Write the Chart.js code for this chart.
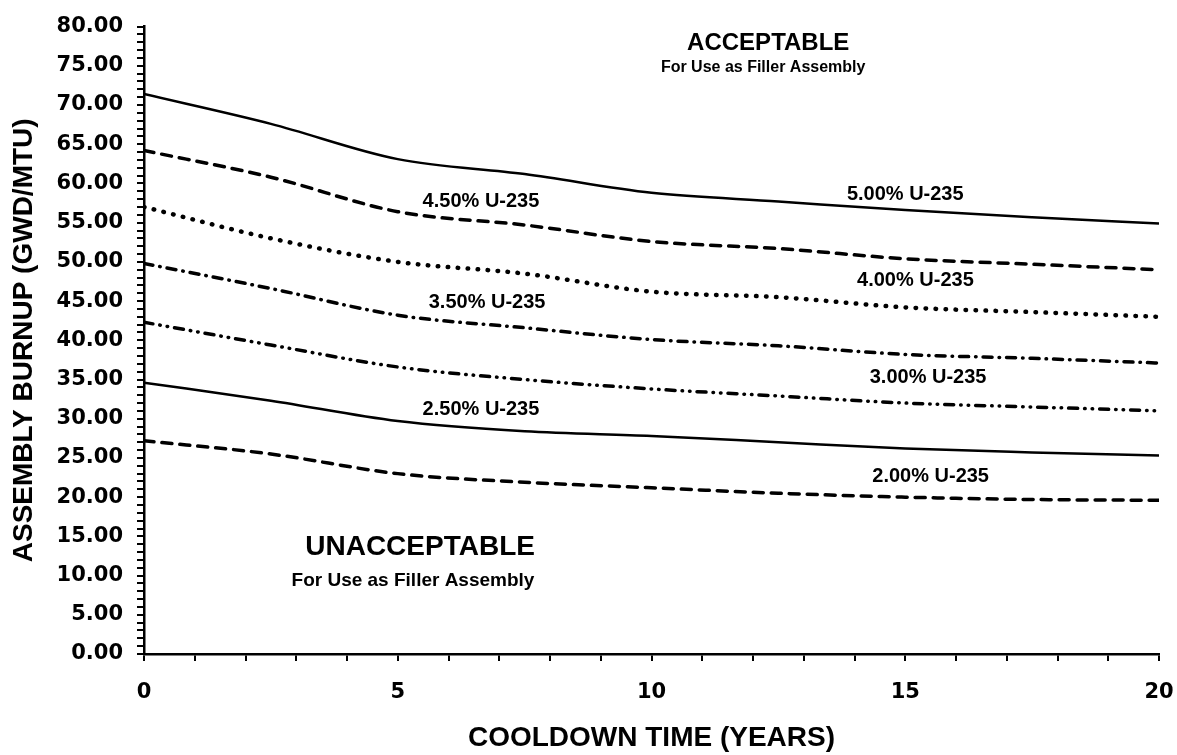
<!DOCTYPE html>
<html>
<head>
<meta charset="utf-8">
<script src="https://cdn.jsdelivr.net/npm/chart.js@4.4.1/dist/chart.umd.min.js"></script>
<style>
  html, body { margin: 0; padding: 0; background: #fff; }
  #wrap { width: 1177px; height: 755px; position: relative; }
</style>
</head>
<body>
<div id="wrap"><canvas id="canvasChart"></canvas></div>
<script>
// cooldown time (years)
const years = [0, 2.5, 5, 7.5, 10, 12.5, 15, 17.5, 20];

// assembly burnup (GWD/MTU) per initial enrichment
const burnup500 = [71.4, 67.6, 63.1, 61.2, 58.8, 57.7, 56.6, 55.7, 54.9];
const burnup450 = [64.2, 60.8, 56.4, 54.7, 52.6, 51.7, 50.4, 49.7, 49.0];
const burnup400 = [57.0, 53.0, 50.0, 48.5, 46.2, 45.5, 44.2, 43.6, 43.0];
const burnup350 = [49.8, 46.6, 43.2, 41.6, 40.1, 39.3, 38.2, 37.7, 37.1];
const burnup300 = [42.3, 39.4, 36.6, 35.0, 33.8, 32.9, 32.0, 31.5, 31.0];
const burnup250 = [34.6, 32.3, 29.7, 28.4, 27.8, 27.0, 26.2, 25.7, 25.3];
const burnup200 = [27.2, 25.5, 23.0, 21.9, 21.2, 20.5, 20.0, 19.7, 19.6];

const seriesNames = ['5.00% U-235', '4.50% U-235', '4.00% U-235', '3.50% U-235',
                     '3.00% U-235', '2.50% U-235', '2.00% U-235'];

const xTickLabels = ['0', '5', '10', '15', '20'];
const yTickLabels = ['0.00', '5.00', '10.00', '15.00', '20.00', '25.00', '30.00', '35.00',
                     '40.00', '45.00', '50.00', '55.00', '60.00', '65.00', '70.00', '75.00', '80.00'];

const TXT = '"Liberation Sans", Arial, Helvetica, sans-serif';

function pts(ys) {
    return ys.map((v, i) => ({ x: years[i], y: v }));
}

// line style for each curve
const styles = [
    { dash: [], w: 2.5, cap: 'butt' },
    { dash: [10, 8], w: 3.5, cap: 'round' },
    { dash: [0.5, 9.5], w: 4.5, cap: 'round' },
    { dash: [9, 7, 0.5, 7], w: 3.5, cap: 'round' },
    { dash: [9, 7, 0.5, 7, 0.5, 7], w: 3.5, cap: 'round' },
    { dash: [], w: 2.5, cap: 'butt' },
    { dash: [10, 8], w: 3.5, cap: 'round' }
];
const allSeries = [burnup500, burnup450, burnup400, burnup350, burnup300, burnup250, burnup200];

// text notes placed in data units
const notes = [
    { t: 'ACCEPTABLE', x: 12.3, y: 77.9, size: 24 },
    { t: 'For Use as Filler Assembly', x: 12.2, y: 74.8, size: 16 },
    { t: 'UNACCEPTABLE', x: 5.44, y: 13.6, size: 28 },
    { t: 'For Use as Filler Assembly', x: 5.3, y: 9.3, size: 19 },
    { t: seriesNames[0], x: 15.0, y: 58.6, size: 20 },
    { t: seriesNames[1], x: 6.64, y: 57.7, size: 20 },
    { t: seriesNames[2], x: 15.2, y: 47.6, size: 20 },
    { t: seriesNames[3], x: 6.76, y: 44.8, size: 20 },
    { t: seriesNames[4], x: 15.45, y: 35.2, size: 20 },
    { t: seriesNames[5], x: 6.64, y: 31.2, size: 20 },
    { t: seriesNames[6], x: 15.5, y: 22.6, size: 20 }
];

const notesPlugin = {
    id: 'notes',
    afterDatasetsDraw(chart) {
        const ctx = chart.ctx;
        const xs = chart.scales.x, ys = chart.scales.y;
        ctx.save();
        ctx.fillStyle = '#000';
        ctx.textAlign = 'center';
        ctx.textBaseline = 'middle';
        notes.forEach(n => {
            ctx.font = 'bold ' + n.size + 'px ' + TXT;
            ctx.fillText(n.t, xs.getPixelForValue(n.x), ys.getPixelForValue(n.y));
        });
        ctx.restore();
    }
};

const datasets = allSeries.map((s, i) => ({
    label: seriesNames[i],
    data: pts(s),
    borderColor: '#000',
    borderWidth: styles[i].w,
    borderDash: styles[i].dash,
    borderCapStyle: styles[i].cap,
    fill: false,
    pointRadius: 0,
    cubicInterpolationMode: 'monotone'
}));

const ctx = document.getElementById('canvasChart').getContext('2d');
new Chart(ctx, {
    type: 'line',
    data: { datasets: datasets },
    plugins: [notesPlugin],
    options: {
        responsive: true,
        maintainAspectRatio: false,
        animation: false,
        layout: { padding: { top: 25, right: 18, bottom: 0, left: 0 } },
        plugins: { legend: { display: false }, tooltip: { enabled: false } },
        scales: {
            x: {
                type: 'linear', min: 0, max: 20,
                afterFit(scale) {
                    scale.height = 101;
                    scale.paddingLeft = 0;
                    scale.paddingRight = 0;
                },
                border: { display: true, color: '#000', width: 2.5 },
                grid: { drawOnChartArea: false, drawTicks: true, tickLength: 7, color: '#000', lineWidth: 2 },
                ticks: {
                    stepSize: 1, autoSkip: false, maxRotation: 0, padding: 19, color: '#000',
                    font: { family: '"DejaVu Sans", sans-serif', weight: 'bold', size: 21 },
                    callback: v => (v % 5 === 0 ? xTickLabels[v / 5] : '')
                },
                title: {
                    display: true, text: 'COOLDOWN TIME (YEARS)', color: '#000',
                    padding: { top: 0, bottom: 0 },
                    font: { family: TXT, weight: 'bold', size: 28 }
                }
            },
            y: {
                type: 'linear', min: 0, max: 80,
                afterFit(scale) { scale.width = 144; },
                border: { display: true, color: '#000', width: 2.5 },
                grid: { drawOnChartArea: false, drawTicks: true, tickLength: 7, color: '#000', lineWidth: 2 },
                ticks: {
                    stepSize: 1, autoSkip: false, padding: 14, color: '#000',
                    font: { family: '"DejaVu Sans", sans-serif', weight: 'bold', size: 21 },
                    callback: v => (v % 5 === 0 ? yTickLabels[v / 5] : '')
                },
                title: {
                    display: true, text: 'ASSEMBLY BURNUP (GWD/MTU)', color: '#000',
                    padding: { top: 7, bottom: 0 },
                    font: { family: TXT, weight: 'bold', size: 28 }
                }
            }
        }
    }
});
</script>
</body>
</html>
